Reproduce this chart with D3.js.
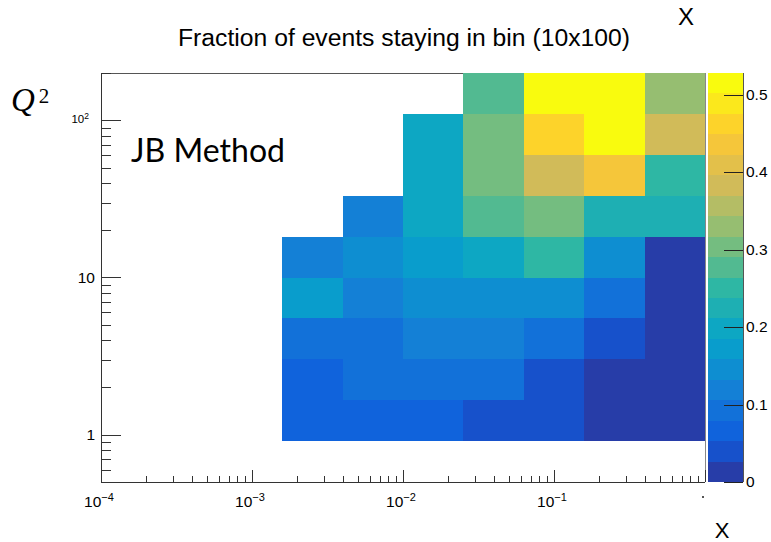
<!DOCTYPE html>
<html>
<head>
<meta charset="utf-8">
<script src="https://cdn.jsdelivr.net/npm/d3@7"></script>
<style>
  body { margin: 0; background: #fff; }
  svg { display: block; }
  text { font-family: "Liberation Sans", Arial, sans-serif; fill: #000; }
</style>
</head>
<body>
<script>
// histogram binning: log bins in x and Q^2
var nX = 10, xMin = 1e-4, xMax = 1;
var nQ = 10, qMin = 0.5, qMax = 200;

// fraction of events staying in bin, one array per Q^2 bin (bottom to top),
// one entry per x bin; null means the bin is empty
var q2Bin0 = [null, null, null, null, null, null, null, null, null, null];
var q2Bin1 = [null, null, null, 0.066, 0.067, 0.065, 0.040, 0.039, 0.013, 0.010];
var q2Bin2 = [null, null, null, 0.066, 0.092, 0.093, 0.092, 0.040, 0.014, 0.011];
var q2Bin3 = [null, null, null, 0.093, 0.092, 0.118, 0.119, 0.093, 0.040, 0.012];
var q2Bin4 = [null, null, null, 0.172, 0.119, 0.146, 0.145, 0.146, 0.092, 0.013];
var q2Bin5 = [null, null, null, 0.118, 0.146, 0.171, 0.197, 0.250, 0.145, 0.012];
var q2Bin6 = [null, null, null, null, 0.119, 0.199, 0.278, 0.303, 0.225, 0.224];
var q2Bin7 = [null, null, null, null, null, 0.197, 0.304, 0.382, 0.436, 0.251];
var q2Bin8 = [null, null, null, null, null, 0.198, 0.303, 0.462, 0.512, 0.383];
var q2Bin9 = [null, null, null, null, null, null, 0.277, 0.528, 0.515, 0.330];
var fraction = [q2Bin0, q2Bin1, q2Bin2, q2Bin3, q2Bin4, q2Bin5, q2Bin6, q2Bin7, q2Bin8, q2Bin9];

// axis ticks
var xMajor = [1e-4, 1e-3, 1e-2, 1e-1];
var xExponents = ["-4", "-3", "-2", "-1"];
var qMajor = [1, 10, 100];
var zTicks = [0, 0.1, 0.2, 0.3, 0.4, 0.5];
var nContours = 20;

// kBird palette stops
var birdStops = [0.0000, 0.1250, 0.2500, 0.3750, 0.5000, 0.6250, 0.7500, 0.8750, 1.0000];
var birdRed   = [0.2082, 0.0592, 0.0780, 0.0232, 0.1802, 0.5301, 0.8186, 0.9956, 0.9764];
var birdGreen = [0.1664, 0.3599, 0.5041, 0.6419, 0.7178, 0.7492, 0.7328, 0.7862, 0.9832];
var birdBlue  = [0.5293, 0.8684, 0.8385, 0.7914, 0.6425, 0.4662, 0.3499, 0.1968, 0.0539];

var width = 771, height = 542;
var frame = {left: 101, right: 705, top: 73, bottom: 482};

var svg = d3.select("body").append("svg")
    .attr("width", width)
    .attr("height", height);

var x = d3.scaleLog().domain([xMin, xMax]).range([frame.left, frame.right]);
var y = d3.scaleLog().domain([qMin, qMax]).range([frame.bottom, frame.top]);

// bin edges (equal width in log)
var xEdges = d3.range(nX + 1).map(function(i){ return xMin * Math.pow(xMax / xMin, i / nX); });
var qEdges = d3.range(nQ + 1).map(function(i){ return qMin * Math.pow(qMax / qMin, i / nQ); });

// palette as 255 gradient colours, like the ROOT colour table
var red = d3.scaleLinear().domain(birdStops).range(birdRed);
var green = d3.scaleLinear().domain(birdStops).range(birdGreen);
var blue = d3.scaleLinear().domain(birdStops).range(birdBlue);
var nColors = 255;
var palette = d3.range(nColors).map(function(j){
    var t = j / (nColors - 1);
    return d3.rgb(red(t) * 255, green(t) * 255, blue(t) * 255).formatHex();
});

var zMax = d3.max(fraction, function(r){ return d3.max(r); });

function levelOf(v){
    return Math.min(nContours - 1, Math.floor(v / zMax * nContours));
}
function levelColor(l){
    return palette[Math.floor((l + 0.99) * nColors / nContours)];
}

// title and labels
svg.append("text")
    .attr("x", 178).attr("y", 46)
    .style("font-size", "23px")
    .attr("textLength", 452)
    .attr("lengthAdjust", "spacingAndGlyphs")
    .text("Fraction of events staying in bin (10x100)");

svg.append("text")
    .attr("x", 686).attr("y", 25)
    .attr("text-anchor", "middle")
    .style("font-size", "24px")
    .text("X");

svg.append("text")
    .attr("x", 722).attr("y", 538)
    .attr("text-anchor", "middle")
    .style("font-size", "22px")
    .text("X");

var qLabel = svg.append("text")
    .attr("x", 11).attr("y", 111)
    .style("font-family", "'Liberation Serif', serif")
    .style("font-size", "33px");
qLabel.append("tspan").style("font-style", "italic").text("Q");
qLabel.append("tspan").attr("dx", 4).attr("dy", -8).style("font-size", "21px").text("2");

// frame top line sits under the cells
svg.append("line")
    .attr("x1", frame.left).attr("x2", frame.right)
    .attr("y1", frame.top + 0.5).attr("y2", frame.top + 0.5)
    .attr("stroke", "#555");

// cells
var cells = [];
fraction.forEach(function(row, qi){
    row.forEach(function(v, xi){
        if (v !== null) cells.push({xi: xi, qi: qi, v: v});
    });
});

svg.selectAll(".cell")
    .data(cells)
    .enter()
    .append("rect")
    .attr("class", "cell")
    .attr("x", function(d){ return x(xEdges[d.xi]); })
    .attr("width", function(d){ return x(xEdges[d.xi + 1]) - x(xEdges[d.xi]); })
    .attr("y", function(d){ return y(qEdges[d.qi + 1]); })
    .attr("height", function(d){ return y(qEdges[d.qi]) - y(qEdges[d.qi + 1]); })
    .attr("shape-rendering", "crispEdges")
    .style("fill", function(d){ return levelColor(levelOf(d.v)); });

svg.append("text")
    .attr("x", 131).attr("y", 162)
    .style("font-family", "Lato, 'Open Sans', sans-serif")
    .style("font-size", "33px")
    .attr("textLength", 154)
    .attr("lengthAdjust", "spacingAndGlyphs")
    .text("JB Method");

// right frame edge
svg.append("line")
    .attr("x1", frame.right + 0.5).attr("x2", frame.right + 0.5)
    .attr("y1", frame.top).attr("y2", frame.bottom)
    .attr("stroke", "#888");

// x axis with log ticks pointing into the frame
var xAxis = svg.append("g");
xAxis.append("line")
    .attr("x1", frame.left).attr("x2", frame.right)
    .attr("y1", frame.bottom + 0.5).attr("y2", frame.bottom + 0.5)
    .attr("stroke", "#333");
var xTickVals = x.ticks();
xAxis.selectAll(".xt")
    .data(xTickVals)
    .enter()
    .append("line")
    .attr("x1", function(d){ return Math.round(x(d)) + 0.5; })
    .attr("x2", function(d){ return Math.round(x(d)) + 0.5; })
    .attr("y1", frame.bottom)
    .attr("y2", function(d){
        var major = Math.abs(Math.log10(d) - Math.round(Math.log10(d))) < 1e-9;
        return frame.bottom - (major ? 12 : 6);
    })
    .attr("stroke", "#333");

var xl = xAxis.selectAll(".xl")
    .data(xMajor)
    .enter()
    .append("text")
    .attr("x", function(d){ return x(d) - 2; })
    .attr("y", 507)
    .attr("text-anchor", "middle")
    .style("font-size", "15.5px");
xl.append("tspan").text("10");
xl.append("tspan")
    .attr("dy", -6)
    .style("font-size", "11px")
    .text(function(d, i){ return "\u2212" + xExponents[i].slice(1); });

// clipped label of the last decade at the axis end
svg.append("rect")
    .attr("x", 702).attr("y", 496)
    .attr("width", 2).attr("height", 2)
    .style("fill", "#555");

// y axis
var yAxis = svg.append("g");
yAxis.append("line")
    .attr("x1", frame.left + 0.5).attr("x2", frame.left + 0.5)
    .attr("y1", frame.top).attr("y2", frame.bottom)
    .attr("stroke", "#333");
var yTickVals = y.ticks().filter(function(d){ return d > qMin; });
yAxis.selectAll(".yt")
    .data(yTickVals)
    .enter()
    .append("line")
    .attr("x1", frame.left)
    .attr("x2", function(d){
        var major = Math.abs(Math.log10(d) - Math.round(Math.log10(d))) < 1e-9;
        return frame.left + (major ? 20 : 10);
    })
    .attr("y1", function(d){ return Math.round(y(d)) + 0.5; })
    .attr("y2", function(d){ return Math.round(y(d)) + 0.5; })
    .attr("stroke", "#333");

qMajor.forEach(function(d){
    var t = yAxis.append("text")
        .attr("y", y(d) + 5)
        .attr("text-anchor", "end");
    if (d === 100) {
        t.attr("x", 89).attr("y", y(d) + 3).style("font-size", "11.5px");
        t.append("tspan").text("10");
        t.append("tspan").attr("dy", -4).style("font-size", "8.5px").text("2");
    } else {
        t.attr("x", 95).style("font-size", "15.5px").text(d3.format("d")(d));
    }
});

// colour bar
var zBar = {left: 708, right: 743};
var z = d3.scaleLinear().domain([0, zMax]).range([frame.bottom, frame.top]);
var bands = d3.range(nContours);
svg.selectAll(".band")
    .data(bands)
    .enter()
    .append("rect")
    .attr("x", zBar.left)
    .attr("width", zBar.right - zBar.left)
    .attr("y", function(l){ return z((l + 1) * zMax / nContours); })
    .attr("height", function(l){ return z(l * zMax / nContours) - z((l + 1) * zMax / nContours); })
    .attr("shape-rendering", "crispEdges")
    .style("fill", function(l){ return levelColor(l); });

svg.append("line")
    .attr("x1", zBar.right + 0.5).attr("x2", zBar.right + 0.5)
    .attr("y1", frame.top).attr("y2", frame.bottom)
    .attr("stroke", "#555");

svg.selectAll(".zt")
    .data(zTicks)
    .enter()
    .append("line")
    .attr("x1", zBar.right)
    .attr("x2", zBar.right - 19)
    .attr("y1", function(d){ return Math.round(z(d)) + 0.5; })
    .attr("y2", function(d){ return Math.round(z(d)) + 0.5; })
    .attr("stroke", "#222");

svg.selectAll(".zl")
    .data(zTicks)
    .enter()
    .append("text")
    .attr("x", 746)
    .attr("y", function(d){ return z(d) + 5; })
    .style("font-size", "15.5px")
    .text(function(d){ return d3.format("")(d); });
</script>
</body>
</html>
